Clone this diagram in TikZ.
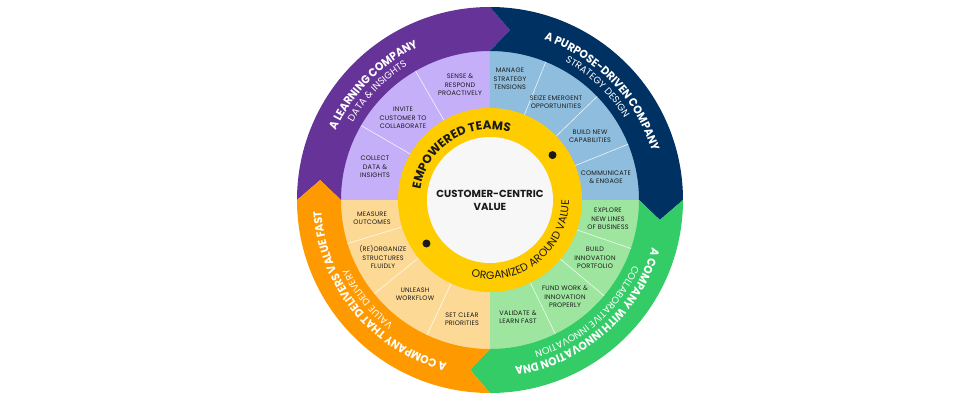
\documentclass[tikz,border=0pt]{standalone}
\usepackage{fontspec}
\setmainfont{Poppins}
\newfontfamily\popwide{Poppins}[FakeStretch=0.92]
\newfontfamily\popitem{Poppins}[LetterSpace=3]
\usetikzlibrary{decorations.text}
\definecolor{opurple}{HTML}{663399}
\definecolor{onavy}{HTML}{003163}
\definecolor{ogreen}{HTML}{33CC66}
\definecolor{oorange}{HTML}{FF9900}
\definecolor{lpurple}{HTML}{C4AFF8}
\definecolor{lblue}{HTML}{8EBDDD}
\definecolor{lgreen}{HTML}{9EE6A0}
\definecolor{lorange}{HTML}{FDD996}
\definecolor{ringyellow}{HTML}{FFCC00}
\definecolor{corewhite}{HTML}{F7F7F7}
\definecolor{inkdark}{HTML}{1A1A1A}
\newcommand\boldarc{\popwide\bfseries\fontsize{11.5}{13}\selectfont}
\newcommand\thinarc{\fontsize{9.6}{11}\selectfont}
\newcommand\outerseg[2]{\fill[#2] (#1:193pt) arc[start angle=#1, end angle=#1-90, radius=193pt] -- ({#1-96.7}:171pt) -- ({#1-90}:149pt) arc[start angle=#1-90, end angle=#1, radius=149pt] -- ({#1-6.7}:171pt) -- cycle;}
\newcommand\quadfill[2]{\fill[#2] (0,0) -- (#1:150pt) arc[start angle=#1, end angle=#1+90, radius=150pt] -- cycle;}
\newcommand\cwtext[3]{\path[decorate, decoration={text along path, text align=center, text={#3}}] ({#1+80}:#2) arc[start angle=#1+80, end angle=#1-80, radius=#2];}
\begin{document}
\begin{tikzpicture}[x=1pt,y=1pt,
  item/.style={align=center, text=inkdark, font=\popitem\fontsize{6.5}{8.3}\selectfont, inner sep=0pt},
  divider/.style={white, line width=0.6pt, opacity=0.85}]
\fill[white] (-490,-200) rectangle (490,200);
\useasboundingbox (-490,-200) rectangle (490,200);
% middle ring quadrants
\quadfill{90}{lpurple}
\quadfill{0}{lblue}
\quadfill{270}{lgreen}
\quadfill{180}{lorange}
% outer ring
\outerseg{180}{opurple}
\outerseg{90}{onavy}
\outerseg{0}{ogreen}
\outerseg{270}{oorange}
% dividers
\foreach \a in {120,150,22,44,68,-19,-40,-64,197,219,245}
  \draw[divider] (\a:92pt) -- (\a:149pt);
% yellow ring and core
\fill[ringyellow] (0,0) circle[radius=92pt];
\fill[corewhite] (0,0) circle[radius=63pt];
\fill[inkdark] (35.7:77pt) circle[radius=4pt];
\fill[inkdark] (214.4:77pt) circle[radius=4pt];
\node[align=center, text=inkdark, font=\bfseries\fontsize{10.2}{13}\selectfont] (core) at (0,0) {CUSTOMER-CENTRIC\\VALUE};
% yellow ring texts
\path[decorate, decoration={text along path, text align=center, text={|\color{inkdark}\bfseries\fontsize{12}{14}\selectfont|EMPOWERED TEAMS}}] (212.5:70.5pt) arc[start angle=212.5, end angle=32.5, radius=70.5pt];
\path[decorate, decoration={text along path, text align=center, text={|\color{inkdark}\fontsize{10.8}{12}\selectfont|ORGANIZED AROUND VALUE}}] (-142:79pt) arc[start angle=-142, end angle=38, radius=79pt];
% outer ring texts
\cwtext{135.5}{169pt}{|\color{white}\boldarc|A LEARNING COMPANY}
\cwtext{136}{157.5pt}{|\color{white}\thinarc|DATA {\&} INSIGHTS}
\cwtext{44}{169pt}{|\color{white}\boldarc|A PURPOSE-DRIVEN COMPANY}
\cwtext{46.5}{157.5pt}{|\color{white}\thinarc|STRATEGY DESIGN}
\cwtext{-49}{169pt}{|\color{white}\boldarc|A COMPANY WITH INNOVATION DNA}
\cwtext{-49}{157.5pt}{|\color{white}\thinarc|COLLABORATIVE INNOVATION}
\cwtext{219.5}{169pt}{|\color{white}\boldarc|A COMPANY THAT DELIVERS VALUE FAST}
\cwtext{219}{157.5pt}{|\color{white}\thinarc|VALUE DELIVERY}
% items
\node[item] (p1) at (-30,115) {SENSE \&\\RESPOND\\PROACTIVELY};
\node[item] (p2) at (-87,82) {INVITE\\CUSTOMER TO\\COLLABORATE};
\node[item] (p3) at (-115,33) {COLLECT\\DATA \&\\INSIGHTS};
\node[item] (n1) at (20,121) {MANAGE\\STRATEGY\\TENSIONS};
\node[item] (n2) at (66,98) {SEIZE EMERGENT\\OPPORTUNITIES};
\node[item] (n3) at (100,64) {BUILD NEW\\CAPABILITIES};
\node[item] (n4) at (116,23) {COMMUNICATE\\\& ENGAGE};
\node[item] (g1) at (118,-19) {EXPLORE\\NEW LINES\\OF BUSINESS};
\node[item] (g2) at (105,-58) {BUILD\\INNOVATION\\PORTFOLIO};
\node[item] (g3) at (75,-97) {FUND WORK \&\\INNOVATION\\PROPERLY};
\node[item] (g4) at (28,-117) {VALIDATE \&\\LEARN FAST};
\node[item] (o1) at (-118,-18) {MEASURE\\OUTCOMES};
\node[item] (o2) at (-107,-57) {(RE)ORGANIZE\\STRUCTURES\\FLUIDLY};
\node[item] (o3) at (-75,-94) {UNLEASH\\WORKFLOW};
\node[item] (o4) at (-28,-119) {SET CLEAR\\PRIORITIES};
\end{tikzpicture}
\end{document}
